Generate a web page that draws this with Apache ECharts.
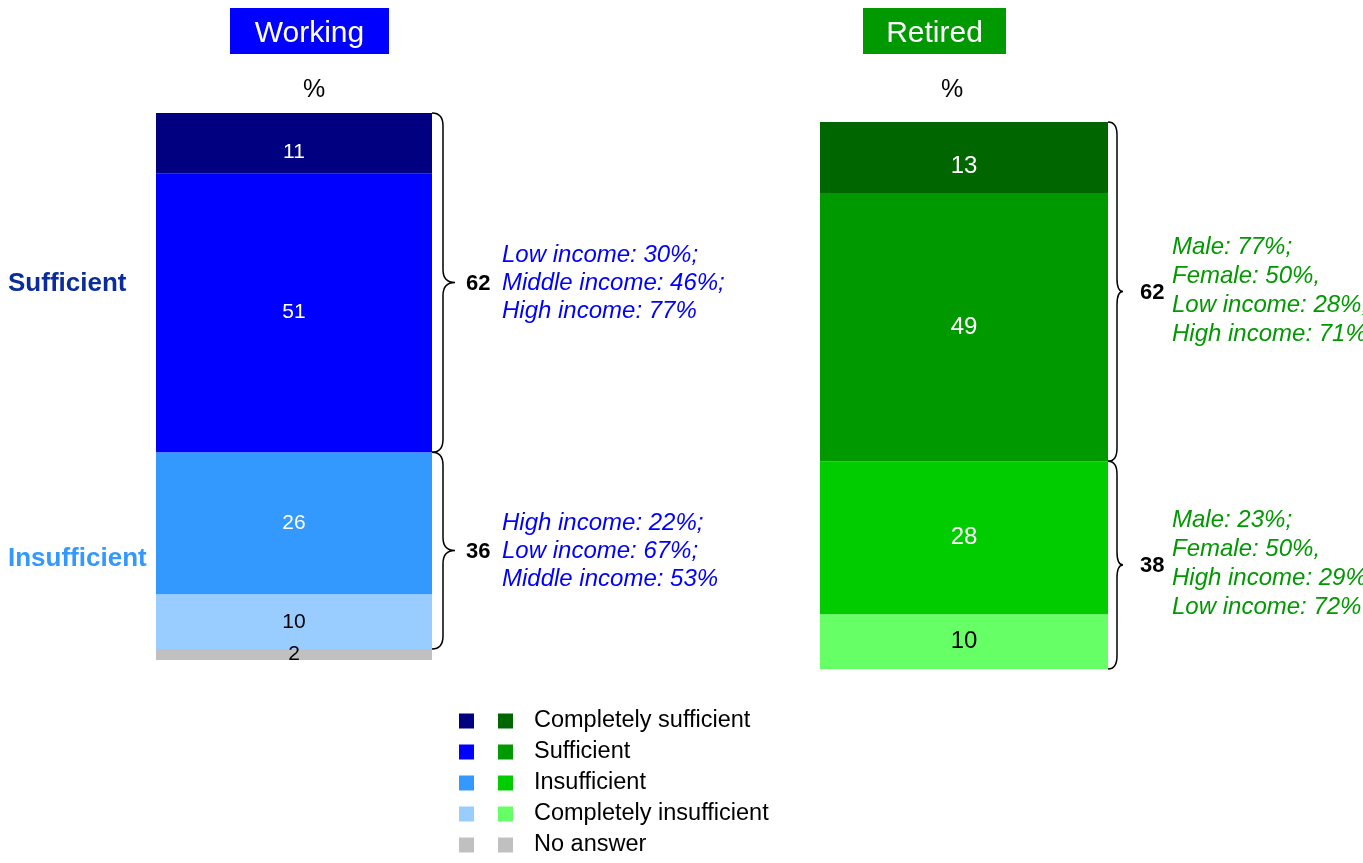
<!DOCTYPE html>
<html>
<head>
<meta charset="utf-8">
<title>Working vs Retired</title>
<script src="https://cdn.jsdelivr.net/npm/echarts@6/dist/echarts.min.js"></script>
<style>
  html, body { margin: 0; padding: 0; background: #ffffff; }
  #chart { width: 1363px; height: 863px; }
</style>
</head>
<body>
<div id="chart"></div>
<script>
// Segments are listed bottom-to-top of each stacked bar
const panels = ['Working', 'Retired'];
const segmentNames = ['No answer', 'Completely insufficient', 'Insufficient', 'Sufficient', 'Completely sufficient'];
const workingValues = [2, 10, 26, 51, 11];
const retiredValues = [0, 10, 28, 49, 13];
const workingColors = ['#c0c0c0', '#99ccff', '#3399ff', '#0000ff', '#000080'];
const retiredColors = ['#c0c0c0', '#66ff66', '#00cc00', '#009900', '#006600'];
const labelColors = ['#000000', '#000000', '#ffffff', '#ffffff', '#ffffff'];

// Bracketed groups: segment indexes that each brace spans
const groupNames = ['Insufficient', 'Sufficient'];
const groupSegments = [[1, 2], [3, 4]];
const groupLabelColors = ['#3399ff', '#0b2d9c'];

const workingNotes = [
  ['High income: 22%;', 'Low income: 67%;', 'Middle income: 53%'],
  ['Low income: 30%;', 'Middle income: 46%;', 'High income: 77%']
];
const retiredNotes = [
  ['Male: 23%;', 'Female: 50%,', 'High income: 29%,', 'Low income: 72%'],
  ['Male: 77%;', 'Female: 50%,', 'Low income: 28%,', 'High income: 71%']
];

const FONT = '"Liberation Sans", Arial, Helvetica, sans-serif';

function cumulative(values) {
  const out = [0];
  values.forEach((v, i) => out.push(out[i] + v));
  return out;
}

function groupData(values) {
  const cum = cumulative(values);
  return groupSegments.map((segs, gi) => {
    const lo = cum[segs[0]];
    const hi = cum[segs[segs.length - 1] + 1];
    const total = segs.reduce((s, k) => s + values[k], 0);
    return [0, lo, hi, total, gi];
  });
}

function barSeries(panelIdx, values, colors, fontSize) {
  const topIdx = segmentNames.length - 1;
  return segmentNames.map((name, i) => ({
    type: 'bar',
    name: panelIdx === 0 ? 'Working: ' + name : name,
    stack: panels[panelIdx],
    xAxisIndex: panelIdx,
    yAxisIndex: panelIdx,
    barWidth: '100%',
    itemStyle: { color: colors[i] },
    label: {
      show: true,
      position: 'inside',
      offset: i === topIdx ? [0, 9] : [0, 0],
      color: labelColors[i],
      fontSize: fontSize,
      fontFamily: FONT,
      formatter: p => (p.value ? String(p.value) : '')
    },
    emphasis: { disabled: true },
    data: [values[i]]
  }));
}

function braceSeries(panelIdx, values, notes, cfg) {
  return {
    type: 'custom',
    name: panels[panelIdx] + ' groups',
    xAxisIndex: panelIdx,
    yAxisIndex: panelIdx,
    clip: false,
    silent: true,
    encode: { x: 0, y: [1, 2] },
    data: groupData(values),
    renderItem: function (params, api) {
      const lo = api.value(1), hi = api.value(2), total = api.value(3);
      const gi = api.value(4);
      const pTop = api.coord([0, hi]);
      const pBot = api.coord([0, lo]);
      const half = api.size([1, 0])[0] / 2;
      const x0 = pTop[0] + half;
      const y0 = pTop[1], y1 = pBot[1];
      const ym = (y0 + y1) / 2;
      const x1 = x0 + cfg.curl, x2 = x0 + cfg.tip, r = 13;
      const d = 'M' + x0 + ',' + y0 +
        ' Q' + x1 + ',' + y0 + ' ' + x1 + ',' + (y0 + r) +
        ' L' + x1 + ',' + (ym - r) +
        ' Q' + x1 + ',' + ym + ' ' + x2 + ',' + ym +
        ' Q' + x1 + ',' + ym + ' ' + x1 + ',' + (ym + r) +
        ' L' + x1 + ',' + (y1 - r) +
        ' Q' + x1 + ',' + y1 + ' ' + x0 + ',' + y1;
      const children = [
        {
          type: 'path',
          shape: { pathData: d, x: x0, y: y0, width: x2 - x0, height: y1 - y0, layout: 'cover' },
          style: { fill: 'none', stroke: '#000000', lineWidth: 1.5 }
        },
        {
          type: 'text',
          x: x0 + cfg.numOffset,
          y: ym + 1,
          style: {
            text: String(total),
            font: 'bold 22px ' + FONT,
            fill: '#000000',
            align: 'left',
            verticalAlign: 'middle'
          }
        },
        {
          type: 'text',
          x: x0 + cfg.noteOffset,
          y: ym + cfg.noteShift,
          style: {
            text: notes[gi].join('\n'),
            font: 'italic 24px ' + FONT,
            lineHeight: cfg.lineHeight,
            fill: cfg.noteColor,
            align: 'left',
            verticalAlign: 'middle'
          }
        }
      ];
      if (cfg.sideLabels) {
        const sideLo = gi === 0 ? api.coord([0, 0])[1] : y1;
        children.push({
          type: 'text',
          x: 8,
          y: (y0 + sideLo) / 2 + (gi === 0 ? 3 : 1),
          style: {
            text: groupNames[gi],
            font: 'bold 26px ' + FONT,
            fill: groupLabelColors[gi],
            align: 'left',
            verticalAlign: 'middle'
          }
        });
      }
      return { type: 'group', children: children };
    }
  };
}

const legendOrder = segmentNames.slice().reverse();

const option = {
  animation: false,
  backgroundColor: '#ffffff',
  textStyle: { fontFamily: FONT },
  grid: [
    { left: 156, top: 113, width: 276, height: 547 },
    { left: 820, top: 122, width: 288, height: 547 }
  ],
  xAxis: [
    { type: 'category', gridIndex: 0, data: [panels[0]], show: false },
    { type: 'category', gridIndex: 1, data: [panels[1]], show: false }
  ],
  yAxis: [
    { type: 'value', gridIndex: 0, min: 0, max: 100, show: false },
    { type: 'value', gridIndex: 1, min: 0, max: 100, show: false }
  ],
  legend: [
    {
      left: 459, top: 709, orient: 'vertical', padding: 0,
      itemWidth: 15, itemHeight: 15, itemGap: 7, icon: 'rect',
      selectedMode: false,
      data: legendOrder.map(n => 'Working: ' + n),
      formatter: () => ' ',
      textStyle: { fontSize: 23.5, fontFamily: FONT }
    },
    {
      left: 498, top: 709, orient: 'vertical', padding: 0,
      itemWidth: 15, itemHeight: 15, itemGap: 7, icon: 'rect',
      selectedMode: false,
      data: legendOrder,
      textStyle: { fontSize: 23.5, fontFamily: FONT, color: '#000000', padding: [0, 0, 0, 16] }
    }
  ],
  graphic: [
    {
      type: 'group', left: 230, top: 8,
      children: [
        { type: 'rect', shape: { x: 0, y: 0, width: 159, height: 46 }, style: { fill: '#0000ff' } },
        { type: 'text', x: 79.5, y: 25.5, style: { text: panels[0], font: '30px ' + FONT, fill: '#ffffff', align: 'center', verticalAlign: 'middle' } }
      ]
    },
    {
      type: 'group', left: 863, top: 8,
      children: [
        { type: 'rect', shape: { x: 0, y: 0, width: 143, height: 46 }, style: { fill: '#009900' } },
        { type: 'text', x: 71.5, y: 25.5, style: { text: panels[1], font: '30px ' + FONT, fill: '#ffffff', align: 'center', verticalAlign: 'middle' } }
      ]
    },
    { type: 'text', x: 314, y: 90, style: { text: '%', font: '25px ' + FONT, fill: '#000000', align: 'center', verticalAlign: 'middle' } },
    { type: 'text', x: 952, y: 90, style: { text: '%', font: '25px ' + FONT, fill: '#000000', align: 'center', verticalAlign: 'middle' } }
  ],
  series: [
    ...barSeries(0, workingValues, workingColors, 21),
    ...barSeries(1, retiredValues, retiredColors, 24),
    braceSeries(0, workingValues, workingNotes, {
      curl: 11, tip: 23, numOffset: 34, noteOffset: 70, lineHeight: 28, noteShift: 1,
      noteColor: '#0000ff', sideLabels: true
    }),
    braceSeries(1, retiredValues, retiredNotes, {
      curl: 9, tip: 15, numOffset: 32, noteOffset: 64, lineHeight: 29, noteShift: -1,
      noteColor: '#009900', sideLabels: false
    })
  ]
};

const chart = echarts.init(document.getElementById('chart'), null, { renderer: 'canvas' });
chart.setOption(option);
</script>
</body>
</html>
